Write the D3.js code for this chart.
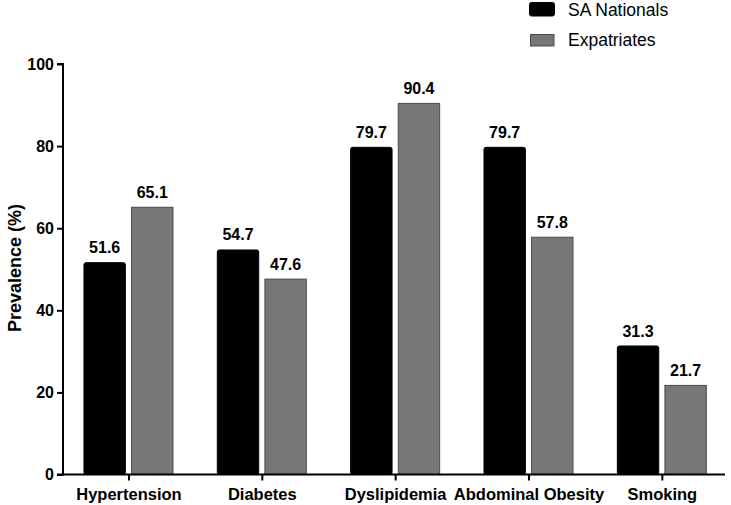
<!DOCTYPE html>
<html>
<head>
<meta charset="utf-8">
<script src="https://cdn.jsdelivr.net/npm/d3@7"></script>
<style>
  html, body { margin: 0; padding: 0; background: #fff; }
  svg { display: block; font-family: Arial, "Liberation Sans", Helvetica, sans-serif; }
</style>
</head>
<body>
<svg id="chart" width="731" height="505"></svg>
<script>
const categories = ["Hypertension", "Diabetes", "Dyslipidemia", "Abdominal Obesity", "Smoking"];
const seriesNames = ["SA Nationals", "Expatriates"];
const saNationals = [51.6, 54.7, 79.7, 79.7, 31.3];
const expatriates = [65.1, 47.6, 90.4, 57.8, 21.7];
const yTicks = [0, 20, 40, 60, 80, 100];
const seriesFill = ["#000000", "#777777"];
const seriesStroke = ["#000000", "#4a4a4a"];

const svg = d3.select("#chart");
const yAxisX = 63, xAxisY = 474.5, yTop = 64;

const x0 = d3.scaleBand().domain(categories).range([62.3, 729]).padding(0);
const x1 = d3.scaleBand().domain(seriesNames).range([-45, 44]).paddingInner(0.13);
const y = d3.scaleLinear().domain([0, 100]).range([xAxisY, yTop]);

const values = [saNationals, expatriates];
const data = [];
categories.forEach((c, i) => seriesNames.forEach((s, j) => data.push({ c, s, j, v: values[j][i] })));

// bars
svg.append("g").selectAll("rect").data(data).join("rect")
  .attr("x", d => x0(d.c) + x0.bandwidth() / 2 + x1(d.s))
  .attr("y", d => y(d.v))
  .attr("width", x1.bandwidth())
  .attr("height", d => y(0) - y(d.v))
  .attr("rx", d => d.j === 0 ? 2 : 0)
  .attr("fill", d => seriesFill[d.j])
  .attr("stroke", d => seriesStroke[d.j])
  .attr("stroke-width", 1);

// value labels
svg.append("g").selectAll("text").data(data).join("text")
  .attr("x", d => x0(d.c) + x0.bandwidth() / 2 + x1(d.s) + x1.bandwidth() / 2)
  .attr("y", d => y(d.v) - 9.5)
  .attr("text-anchor", "middle")
  .attr("font-size", 16)
  .attr("font-weight", "bold")
  .attr("fill", "#000")
  .text(d => d.v.toFixed(1));

// y axis
const yAxis = d3.axisLeft(y).tickValues(yTicks).tickSize(6).tickPadding(3).tickFormat(d3.format("d"));
const gy = svg.append("g").attr("transform", `translate(${yAxisX},0)`).call(yAxis);
gy.select(".domain").attr("stroke", "#000").attr("stroke-width", 2).attr("d", `M-6,${yTop}H0V${xAxisY}H-6`);
gy.selectAll(".tick line").attr("stroke", "#000").attr("stroke-width", 2);
gy.selectAll(".tick text").attr("font-size", 16).attr("font-weight", "bold").attr("fill", "#000")
  .attr("font-family", "Arial, 'Liberation Sans', sans-serif");

// x axis
const xAxis = d3.axisBottom(x0).tickSize(6).tickPadding(8);
const gx = svg.append("g").attr("transform", `translate(0,${xAxisY})`).call(xAxis);
gx.select(".domain").attr("stroke", "#000").attr("stroke-width", 2).attr("d", `M${yAxisX - 1},0H725`);
gx.selectAll(".tick line").attr("stroke", "#000").attr("stroke-width", 2);
gx.selectAll(".tick text").attr("font-size", 16.5).attr("font-weight", "bold").attr("fill", "#000")
  .attr("font-family", "Arial, 'Liberation Sans', sans-serif");

// y title
svg.append("text")
  .attr("transform", `translate(21,268) rotate(-90)`)
  .attr("text-anchor", "middle")
  .attr("font-size", 18)
  .attr("font-weight", "bold")
  .attr("fill", "#000")
  .text("Prevalence (%)");

// legend
const legend = svg.append("g").selectAll("g").data(seriesNames).join("g")
  .attr("transform", (d, i) => `translate(0,${i * 32})`);
legend.append("rect")
  .attr("x", (d, i) => i === 0 ? 529.5 : 530.5)
  .attr("y", (d, i) => i === 0 ? 2.5 : 34.5 - 32)
  .attr("width", (d, i) => i === 0 ? 25 : 23.5)
  .attr("height", (d, i) => i === 0 ? 13.5 : 11.5)
  .attr("rx", (d, i) => i === 0 ? 2 : 0)
  .attr("fill", (d, i) => seriesFill[i])
  .attr("stroke", (d, i) => seriesStroke[i]);
legend.append("text")
  .attr("x", 568)
  .attr("y", (d, i) => i === 0 ? 16 : 45.5 - 32)
  .attr("font-size", 17.5)
  .attr("fill", "#000")
  .text(d => d);
</script>
</body>
</html>
